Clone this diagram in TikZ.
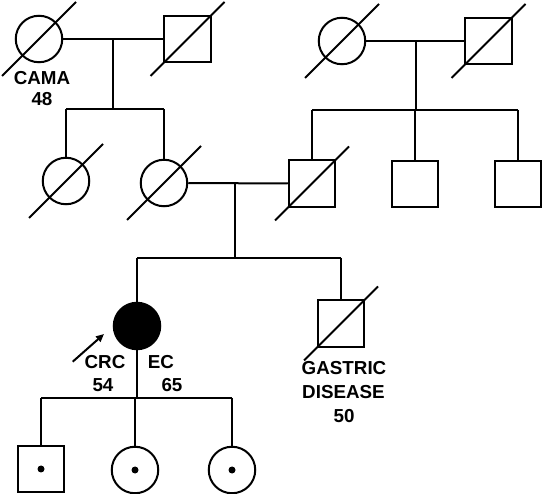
\documentclass[tikz,border=0pt]{standalone}
\usepackage{fontspec}
\setmainfont{Liberation Sans}
\usetikzlibrary{calc,arrows.meta}
\newcommand\deceased[1]{\draw ($(#1)+(-37,37)$) -- ($(#1)+(37,-37)$);}
\begin{document}
\begin{tikzpicture}[x=1pt,y=-1pt,
  line width=2pt,
  female/.style={circle,draw,minimum size=46.5pt,inner sep=0pt},
  male/.style={rectangle,draw,minimum size=46.5pt,inner sep=0pt},
  lbl/.style={font=\bfseries\fontsize{18.8}{23.5}\selectfont,inner sep=0pt},
  dotmark/.style={circle,fill,minimum size=7pt,inner sep=0pt}]
\useasboundingbox (0,0) rectangle (544,494);
% Generation I
\node[female] (i1) at (39,39) {};
\node[male] (i2) at (187.5,39) {};
\node[female] (i3) at (342,41) {};
\node[male] (i4) at (488.5,41) {};
\deceased{i1} \deceased{i2} \deceased{i3} \deceased{i4}
\node[lbl] (cama) at (42,78.5) {CAMA};
\node[lbl] (c48) at (42,99.5) {48};
% Generation II
\node[female] (ii1) at (66,181) {};
\node[female] (ii2) at (164,183) {};
\node[male] (ii3) at (312,183.5) {};
\node[male] (ii4) at (415,184) {};
\node[male] (ii5) at (518,184) {};
\deceased{ii1} \deceased{ii2} \deceased{ii3}
% Generation III
\node[female,fill=black] (iii1) at (137,326) {};
\node[male] (iii2) at (341,323.5) {};
\deceased{iii2}
\node[lbl] (crc) at (105,362) {CRC};
\node[lbl] (c54) at (103,385.5) {54};
\node[lbl] (ec) at (161,362) {EC};
\node[lbl] (c65) at (172,385.5) {65};
\node[lbl] (gas) at (344,368.5) {GASTRIC};
\node[lbl] (dis) at (343.5,392) {DISEASE};
\node[lbl] (c50) at (344,416) {50};
\coordinate (arrs) at (72.7,361.7);
\coordinate (arre) at (104,334);
\draw[-{Triangle[length=8pt,width=7pt]}] (arrs) -- (arre);
% Generation IV
\node[male] (iv1) at (41,469) {};
\node[female] (iv2) at (135,470) {};
\node[female] (iv3) at (232,470) {};
\node[dotmark] (d1) at (iv1) {};
\node[dotmark] (d2) at (iv2) {};
\node[dotmark] (d3) at (iv3) {};
% marriages and descent
\draw (i1.east) -- (i2.west);
\coordinate (s1) at (113,109);
\draw (s1 |- i1.east) -- (s1);
\draw (ii1.north |- s1) -- (ii2.north |- s1);
\draw (ii1.north |- s1) -- (ii1.north);
\draw (ii2.north |- s1) -- (ii2.north);
\draw (i3.east) -- (i4.west);
\coordinate (s2) at (416,110);
\draw (s2 |- i3.east) -- (s2);
\draw (ii3.north |- s2) -- (ii5.north |- s2);
\draw (ii3.north |- s2) -- (ii3.north);
\draw (ii4.north |- s2) -- (ii4.north);
\draw (ii5.north |- s2) -- (ii5.north);
\draw (ii2.east) -- (ii3.west);
\coordinate (s3) at (235,258);
\draw (s3 |- ii2.east) -- (s3);
\draw (iii1.north |- s3) -- (iii2.north |- s3);
\draw (iii1.north |- s3) -- (iii1.north);
\draw (iii2.north |- s3) -- (iii2.north);
\coordinate (s4) at (137,398);
\draw (iii1.south) -- (s4);
\draw (iv1.north |- s4) -- (iv3.north |- s4);
\draw (iv1.north |- s4) -- (iv1.north);
\draw (iv2.north |- s4) -- (iv2.north);
\draw (iv3.north |- s4) -- (iv3.north);
\end{tikzpicture}
\end{document}
